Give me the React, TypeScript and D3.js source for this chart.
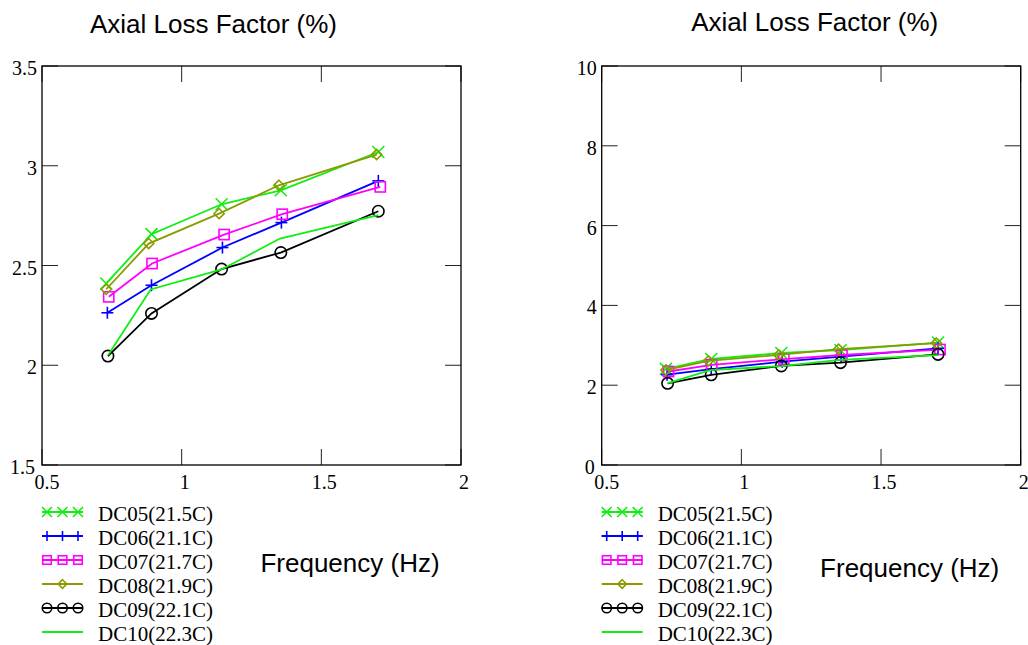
import React from "react";
import * as d3 from "d3";

// ---- data ----
const seriesNames = ["DC05(21.5C)", "DC06(21.1C)", "DC07(21.7C)", "DC08(21.9C)", "DC09(22.1C)", "DC10(22.3C)"];
const seriesColors = ["#11ee11", "#0000ff", "#ff00ff", "#8c9a00", "#000000", "#11ee11"];
const seriesMarkers = ["x", "plus", "square", "diamond", "circle", "none"];

const freq05 = [0.730, 0.892, 1.143, 1.355, 1.704];
const loss05 = [2.41, 2.657, 2.807, 2.877, 3.069];
const freq06 = [0.734, 0.892, 1.146, 1.357, 1.704];
const loss06 = [2.263, 2.401, 2.59, 2.715, 2.924];
const freq07 = [0.739, 0.894, 1.152, 1.36, 1.711];
const loss07 = [2.343, 2.51, 2.655, 2.757, 2.894];
const freq08 = [0.730, 0.882, 1.134, 1.348, 1.698];
const loss08 = [2.381, 2.61, 2.76, 2.902, 3.056];
const freq09 = [0.736, 0.892, 1.143, 1.355, 1.704];
const loss09 = [2.046, 2.26, 2.482, 2.565, 2.772];
const freq10 = [0.737, 0.889, 1.143, 1.352, 1.704];
const loss10 = [2.051, 2.38, 2.48, 2.635, 2.752];

const freqs = [freq05, freq06, freq07, freq08, freq09, freq10];
const losses = [loss05, loss06, loss07, loss08, loss09, loss10];

const xTicks = [0.5, 1, 1.5, 2];
const yTicksLeft = [1.5, 2, 2.5, 3, 3.5];
const yTicksRight = [0, 2, 4, 6, 8, 10];

const titleText = "Axial Loss Factor (%)";
const xLabelText = "Frequency (Hz)";

const SANS = "'Liberation Sans', Arial, sans-serif";
const SERIF = "'Liberation Serif', 'Times New Roman', serif";

function Marker({ type, x, y, color, s }: { type: string; x: number; y: number; color: string; s: number }) {
  const sw = 1.6;
  if (type === "x")
    return (
      <g stroke={color} strokeWidth={sw}>
        <line x1={x - s} y1={y - s} x2={x + s} y2={y + s} />
        <line x1={x - s} y1={y + s} x2={x + s} y2={y - s} />
      </g>
    );
  if (type === "plus")
    return (
      <g stroke={color} strokeWidth={sw}>
        <line x1={x - s} y1={y} x2={x + s} y2={y} />
        <line x1={x} y1={y - s} x2={x} y2={y + s} />
      </g>
    );
  if (type === "square")
    return <rect x={x - s * 0.85} y={y - s * 0.85} width={s * 1.7} height={s * 1.7} fill="none" stroke={color} strokeWidth={sw} />;
  if (type === "diamond")
    return (
      <polygon
        points={`${x},${y - s * 0.85} ${x + s * 0.85},${y} ${x},${y + s * 0.85} ${x - s * 0.85},${y}`}
        fill="none"
        stroke={color}
        strokeWidth={sw}
      />
    );
  if (type === "circle") return <circle cx={x} cy={y} r={s * 0.95} fill="none" stroke={color} strokeWidth={sw} />;
  return null;
}

function Panel({
  left,
  yDomain,
  yTicks,
  titleDx,
  titleY,
  xLabelY,
}: {
  left: number;
  yDomain: [number, number];
  yTicks: number[];
  titleDx: number;
  titleY: number;
  xLabelY: number;
}) {
  const top = 66;
  const bottom = 465;
  const width = 419;
  const x = d3.scaleLinear().domain([0.5, 2]).range([left, left + width]);
  const y = d3.scaleLinear().domain(yDomain).range([bottom, top]);
  const tl = 16;
  const line = d3
    .line<[number, number]>()
    .x((d) => x(d[0]))
    .y((d) => y(d[1]));

  return (
    <g>
      <text x={left + titleDx} y={titleY} fontFamily={SANS} fontSize={26} textAnchor="middle" fill="#000">
        {titleText}
      </text>
      {/* ticks */}
      <g stroke="#222" strokeWidth={1}>
        {xTicks.map((t) => (
          <g key={"xt" + t}>
            <line x1={x(t)} x2={x(t)} y1={bottom} y2={bottom - tl} />
            <line x1={x(t)} x2={x(t)} y1={top} y2={top + tl} />
          </g>
        ))}
        {yTicks.map((t) => (
          <g key={"yt" + t}>
            <line x1={left} x2={left + tl} y1={y(t)} y2={y(t)} />
            <line x1={left + width} x2={left + width - tl} y1={y(t)} y2={y(t)} />
          </g>
        ))}
      </g>
      {xTicks.map((t, i) => (
        <text key={"xl" + t} x={x(t) + (i === 0 ? 5 : 3)} y={489} fontFamily={SERIF} fontSize={20} textAnchor="middle" fill="#000">
          {String(t)}
        </text>
      ))}
      {yTicks.map((t, i) => (
        <text key={"yl" + t} x={left - (i === 0 ? 7 : 5)} y={y(t) + 9} fontFamily={SERIF} fontSize={20} textAnchor="end" fill="#000">
          {String(t)}
        </text>
      ))}
      {/* data */}
      {seriesNames.map((name, i) => {
        const pts: [number, number][] = freqs[i].map((f, j) => [f, losses[i][j]]);
        return (
          <g key={name}>
            <path d={line(pts) || ""} fill="none" stroke={seriesColors[i]} strokeWidth={1.8} />
            {pts.map((p, j) => (
              <Marker key={j} type={seriesMarkers[i]} x={x(p[0])} y={y(p[1])} color={seriesColors[i]} s={6} />
            ))}
          </g>
        );
      })}
      <rect x={left} y={top} width={width} height={bottom - top} fill="none" stroke="#000" strokeWidth={1.3} />
      {/* legend */}
      {seriesNames.map((name, i) => {
        const cy = 512 + i * 24;
        const lx0 = left;
        const lx1 = left + 41;
        const c = seriesColors[i];
        const m = seriesMarkers[i];
        const mxs = m === "diamond" ? [lx0 + 20.5] : m === "none" ? [] : [lx0 + 5, lx0 + 20.5, lx0 + 36];
        return (
          <g key={"lg" + name}>
            <line x1={lx0} x2={lx1} y1={cy} y2={cy} stroke={c} strokeWidth={1.8} />
            {mxs.map((mx, k) => (
              <Marker key={k} type={m} x={mx} y={cy} color={c} s={5} />
            ))}
            <text x={left + 56} y={cy + 9} fontFamily={SERIF} fontSize={21} fill="#000">
              {name}
            </text>
          </g>
        );
      })}
      <text x={left + 308} y={xLabelY} fontFamily={SANS} fontSize={26} textAnchor="middle" fill="#000">
        {xLabelText}
      </text>
    </g>
  );
}

export default function App() {
  return (
    <svg width={1028} height={645} style={{ position: "absolute", left: 0, top: 0, background: "#fff" }}>
      <rect x={0} y={0} width={1028} height={645} fill="#fff" />
      <Panel left={42} yDomain={[1.5, 3.5]} yTicks={yTicksLeft} titleDx={171.5} titleY={33} xLabelY={572} />
      <Panel left={601.7} yDomain={[0, 10]} yTicks={yTicksRight} titleDx={213} titleY={31} xLabelY={577} />
    </svg>
  );
}
